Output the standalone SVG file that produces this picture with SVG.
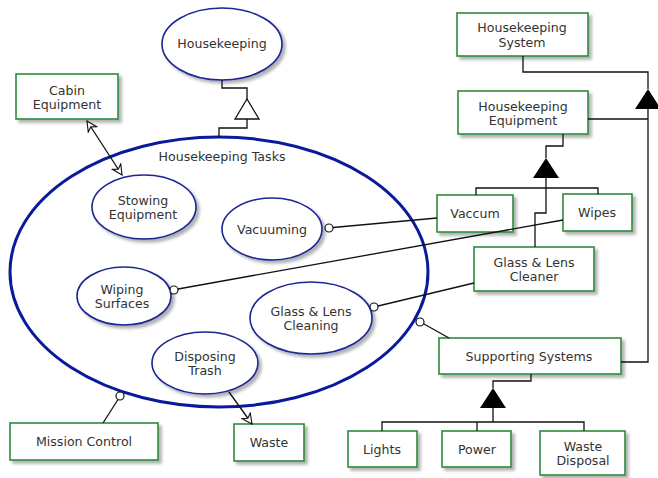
<svg xmlns="http://www.w3.org/2000/svg" width="658" height="478" viewBox="0 0 658 478">
<style>
text{font-family:"DejaVu Sans","Liberation Sans",sans-serif;font-size:12.6px;fill:#333;text-anchor:middle}
.box{fill:#fff;stroke:#2e8b3a;stroke-width:1.6;filter:url(#sh)}
.uc{fill:#fff;stroke:#1a2594;stroke-width:1.6;filter:url(#sh)}
.big{fill:none;stroke:#0b1a9c;stroke-width:3}
.ln{fill:none;stroke:#111;stroke-width:1.3}
.dot{fill:#fff;stroke:#111;stroke-width:1.2}
</style>
<defs>
<filter id="sh" x="-20%" y="-20%" width="150%" height="150%">
<feDropShadow dx="3" dy="3" stdDeviation="1.5" flood-color="#000" flood-opacity="0.3"/>
</filter>
<marker id="oa" viewBox="0 0 12 12" refX="11" refY="6" markerWidth="12" markerHeight="12" markerUnits="userSpaceOnUse" orient="auto-start-reverse">
<path d="M1,1 L11,6 L1,11 L4,6 Z" fill="#fff" stroke="#111" stroke-width="1.1"/>
</marker>
</defs>

<g id="housekeeping-tasks">
<ellipse class="big" cx="219" cy="272" rx="209" ry="135"/>
<text x="222" y="161">Housekeeping Tasks</text>
</g>

<g id="housekeeping"><ellipse class="uc" cx="222" cy="44" rx="60" ry="36"/><text x="222" y="48">Housekeeping</text></g>
<g id="cabin-equipment"><rect class="box" x="16" y="74" width="102" height="45"/><text x="67" y="94.5">Cabin</text><text x="67" y="109">Equipment</text></g>
<g id="stowing-equipment"><ellipse class="uc" cx="144" cy="207" rx="52" ry="32"/><text x="143" y="204.5">Stowing</text><text x="143" y="219">Equipment</text></g>
<g id="vacuuming"><ellipse class="uc" cx="272" cy="229" rx="50" ry="31"/><text x="272" y="234">Vacuuming</text></g>
<g id="wiping-surfaces"><ellipse class="uc" cx="124" cy="296" rx="47" ry="29"/><text x="122" y="293.5">Wiping</text><text x="122" y="308">Surfaces</text></g>
<g id="glass-lens-cleaning"><ellipse class="uc" cx="311" cy="318" rx="61" ry="36"/><text x="311" y="315.5">Glass &amp; Lens</text><text x="311" y="330">Cleaning</text></g>
<g id="disposing-trash"><ellipse class="uc" cx="205" cy="363" rx="53" ry="31"/><text x="205" y="360.5">Disposing</text><text x="205" y="375">Trash</text></g>
<g id="mission-control"><rect class="box" x="10" y="423" width="148" height="37"/><text x="84" y="446">Mission Control</text></g>
<g id="waste"><rect class="box" x="234" y="424" width="70" height="37"/><text x="269" y="447">Waste</text></g>
<g id="housekeeping-system"><rect class="box" x="457" y="13" width="131" height="43"/><text x="522" y="32">Housekeeping</text><text x="522" y="46.5">System</text></g>
<g id="housekeeping-equipment"><rect class="box" x="458" y="91" width="130" height="43"/><text x="523" y="110.5">Housekeeping</text><text x="523" y="125">Equipment</text></g>
<g id="vaccum"><rect class="box" x="437" y="195" width="76" height="37"/><text x="475" y="218">Vaccum</text></g>
<g id="wipes"><rect class="box" x="563" y="194" width="69" height="37"/><text x="597" y="217">Wipes</text></g>
<g id="glass-lens-cleaner"><rect class="box" x="474" y="247" width="120" height="44"/><text x="534" y="266.5">Glass &amp; Lens</text><text x="534" y="281">Cleaner</text></g>
<g id="supporting-systems"><rect class="box" x="439" y="338" width="182" height="36"/><text x="529" y="360.5">Supporting Systems</text></g>
<g id="lights"><rect class="box" x="348" y="431" width="69" height="36"/><text x="382" y="453.5">Lights</text></g>
<g id="power"><rect class="box" x="442" y="431" width="69" height="36"/><text x="477" y="453.5">Power</text></g>
<g id="waste-disposal"><rect class="box" x="540" y="431" width="85" height="44"/><text x="583" y="450.5">Waste</text><text x="583" y="465">Disposal</text></g>

<g id="connectors">
<!-- Housekeeping generalization -->
<path class="ln" d="M222,80 V88 H247 V99 M247,119 V128 H219 V138"/>
<polygon points="247,99 259,119 235,119" fill="#fff" stroke="#111" stroke-width="1.3"/>
<!-- Housekeeping System aggregation -->
<path class="ln" d="M523,56 V72 H648 V89 M648,109 V362 H621 M588,119 H648"/>
<polygon points="648,89 661,109 635,109" fill="#000"/>
<!-- Housekeeping Equipment -->
<path class="ln" d="M563,134 V146 H546 V158 M546,178 V213 H535 V247 M476,195 V188 H598 V194"/>
<polygon points="546,158 559,178 533,178" fill="#000"/>
<!-- Supporting Systems -->
<path class="ln" d="M531,374 V381 H493 V388 M493,408 V422 M382,431 V422 H584 V431 M477,422 V431"/>
<polygon points="493,388 506,408 480,408" fill="#000"/>
<!-- associations -->
<line class="ln" x1="333" y1="227.5" x2="437" y2="218"/>
<circle class="dot" cx="329" cy="228" r="4"/>
<line class="ln" x1="178" y1="289" x2="563" y2="220"/>
<circle class="dot" cx="174" cy="290" r="4"/>
<line class="ln" x1="378" y1="306" x2="474" y2="283"/>
<circle class="dot" cx="374" cy="307" r="4"/>
<line class="ln" x1="424" y1="324" x2="449" y2="338"/>
<circle class="dot" cx="420" cy="322" r="4"/>
<line class="ln" x1="118" y1="399.5" x2="103" y2="423"/>
<circle class="dot" cx="120" cy="396" r="4"/>
<line class="ln" x1="87" y1="121" x2="122" y2="175" marker-start="url(#oa)" marker-end="url(#oa)"/>
<line class="ln" x1="229" y1="392" x2="252" y2="424" marker-end="url(#oa)"/>
</g>
</svg>
